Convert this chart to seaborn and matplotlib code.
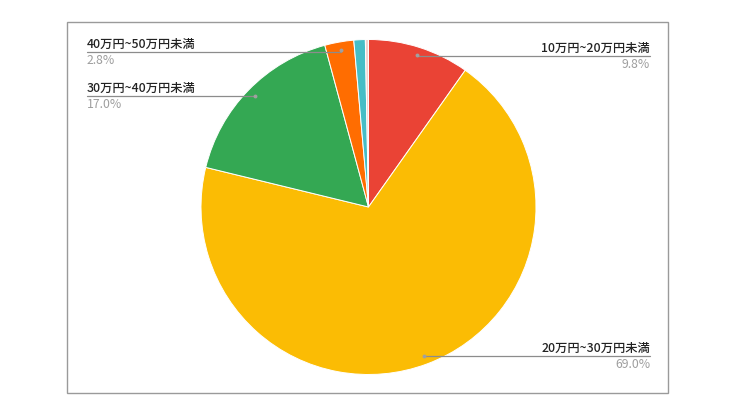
import numpy as np
import matplotlib
matplotlib.use("Agg")
from matplotlib import pyplot as plt
from matplotlib.patches import Rectangle
import seaborn as sns

# data (clockwise from 12 o'clock)
categories = ['10万円~20万円未満', '20万円~30万円未満', '30万円~40万円未満',
              '40万円~50万円未満', '50万円~60万円未満', 'その他']
shares = [9.8, 69.0, 17.0, 2.8, 1.1, 0.3]
colors = ['#EA4335', '#FBBC04', '#34A853', '#FF6D01', '#46BDC6', '#F3D3CF']
labelled = [0, 1, 2, 3]          # slices that carry a label
label_side = ['right', 'right', 'left', 'left']
label_y = [56, 356, 96, 52]      # pixel row of the leader line

sns.set_theme(style='white')
plt.rcParams['font.family'] = ['Noto Sans CJK JP', 'DejaVu Sans']

W, H = 739, 420
fig = plt.figure(figsize=(W / 100, H / 100), dpi=100)

# pie placement in pixels
cx, cy, R = 368.5, 207.0, 167.5
ax = fig.add_axes([(cx - R) / W, (H - cy - R) / H, 2 * R / W, 2 * R / H])
wedges, _ = ax.pie(shares, colors=colors, startangle=90, counterclock=False,
                   radius=1.0, wedgeprops=dict(edgecolor='white', linewidth=0.7))
ax.set_xlim(-1, 1)
ax.set_ylim(-1, 1)
ax.set_aspect('equal')
ax.axis('off')

# overlay in pixel coordinates for frame and labels
ov = fig.add_axes([0, 0, 1, 1], zorder=3)
ov.set_xlim(0, W)
ov.set_ylim(H, 0)
ov.axis('off')
ov.patch.set_alpha(0)
ov.add_patch(Rectangle((67, 22), 601, 371, fill=False, edgecolor='#9a9a9a', lw=1.0))

total = sum(shares)
cum = np.cumsum([0] + shares)
for k, i in enumerate(labelled):
    mid = (cum[i] + shares[i] / 2) / total
    ang = np.deg2rad(90 - 360 * mid)
    px = cx + 0.95 * R * np.cos(ang)
    py = cy - 0.95 * R * np.sin(ang)
    ly = label_y[k]
    if label_side[k] == 'right':
        x_end, ha = 650, 'right'
    else:
        x_end, ha = 87, 'left'
    ov.plot([px, px, x_end], [py, ly, ly], color='#8c8c8c', lw=0.9)
    ov.plot([px], [py], 'o', color='#a0a0a0', ms=2.8, mec='none')
    ov.text(x_end, ly - 1.5, categories[i], ha=ha, va='bottom',
            fontsize=8.8, color='#222222', fontweight='medium')
    ov.text(x_end, ly + 1.5, f'{shares[i]:.1f}%', ha=ha, va='top',
            fontsize=8.8, color='#9e9e9e')

fig.savefig('out.png', dpi=100, facecolor='white')
